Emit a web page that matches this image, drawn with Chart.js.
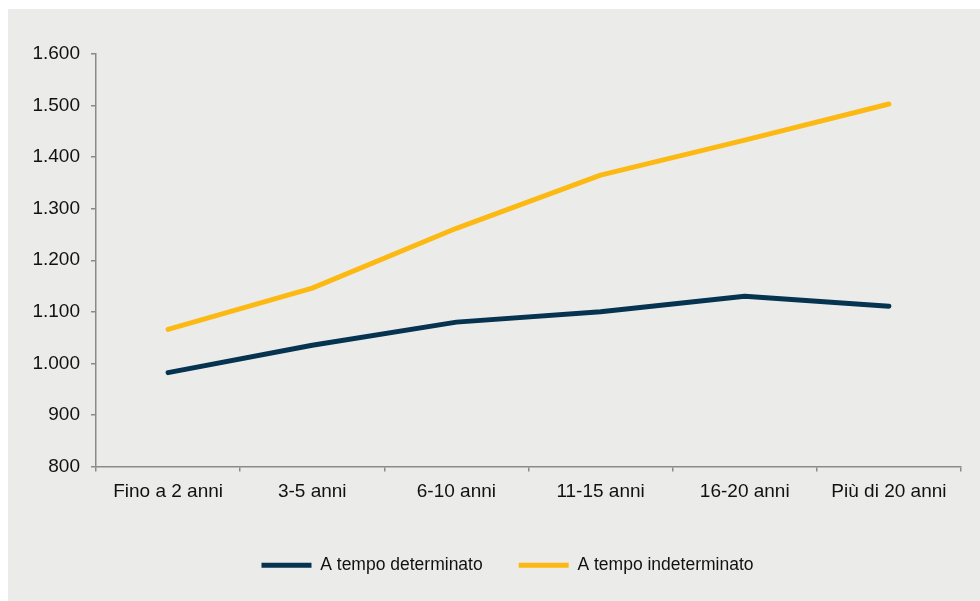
<!DOCTYPE html>
<html lang="it">

<head>
    <meta charset="UTF-8">
    <title>Retribuzione per anzianità</title>
    <style>
        body { margin: 0; background: #fff; }
        #panel {
            position: absolute;
            left: 8px;
            top: 9px;
            width: 972px;
            height: 592px;
            background: #ebecea;
        }
        canvas { display: block; }
    </style>
</head>

<body>
    <div id="panel">
        <canvas id="myChart" width="972" height="592"></canvas>
    </div>

    <script src="https://cdn.jsdelivr.net/npm/chart.js@4.4.1/dist/chart.umd.min.js"></script>
    <script>
        var categories = ['Fino a 2 anni', '3-5 anni', '6-10 anni', '11-15 anni', '16-20 anni', 'Più di 20 anni'];
        var seriesNames = ['A tempo determinato', 'A tempo indeterminato'];
        var determinato = [982, 1035, 1080, 1100, 1130, 1111];
        var indeterminato = [1066, 1146, 1262, 1365, 1433, 1503];
        var yTicks = [800, 900, 1000, 1100, 1200, 1300, 1400, 1500, 1600];

        function fmt(v) {
            return String(v).replace(/\B(?=(\d{3})+(?!\d))/g, '.');
        }

        var family = "'Liberation Sans', Arial, sans-serif";
        var axisFont = { family: family, size: 19 };
        var legendFont = { family: family, size: 17.5 };
        var axisColor = '#8a8a8a';

        function lineSet(label, data, color) {
            return {
                label: label,
                data: data,
                borderColor: color,
                backgroundColor: color,
                borderWidth: 5,
                borderCapStyle: 'round',
                borderJoinStyle: 'round',
                pointRadius: 0,
                pointHoverRadius: 0,
                tension: 0
            };
        }

        // legend in the original is centred a bit right of the canvas middle
        var shiftLegend = {
            id: 'shiftLegend',
            afterLayout: function (chart) {
                if (chart.legend) chart.legend.left = 46;
            }
        };

        new Chart(document.getElementById('myChart').getContext('2d'), {
            type: 'line',
            data: {
                labels: categories,
                datasets: [
                    lineSet(seriesNames[0], determinato, '#06334f'),
                    lineSet(seriesNames[1], indeterminato, '#fdb913')
                ]
            },
            plugins: [shiftLegend],
            options: {
                responsive: false,
                animation: false,
                layout: { padding: { top: 45, left: 0, right: 19, bottom: 17 } },
                plugins: {
                    tooltip: { enabled: false },
                    legend: {
                        position: 'bottom',
                        labels: {
                            usePointStyle: true,
                            pointStyle: 'line',
                            pointStyleWidth: 50,
                            padding: 36,
                            color: '#111',
                            font: legendFont
                        }
                    }
                },
                scales: {
                    x: {
                        offset: true,
                        afterFit: function (s) { s.height = 54; },
                        grid: {
                            offset: true,
                            drawOnChartArea: false,
                            drawTicks: true,
                            tickLength: 5,
                            color: axisColor,
                            lineWidth: 1.5
                        },
                        border: { color: axisColor, width: 1.5 },
                        ticks: { color: '#111', font: axisFont, padding: 9, maxRotation: 0 }
                    },
                    y: {
                        min: yTicks[0],
                        max: yTicks[yTicks.length - 1],
                        afterFit: function (s) { s.width = 88; },
                        afterBuildTicks: function (s) {
                            s.ticks = yTicks.map(function (v) { return { value: v }; });
                        },
                        grid: {
                            drawOnChartArea: false,
                            drawTicks: true,
                            tickLength: 5,
                            color: axisColor,
                            lineWidth: 1.5
                        },
                        border: { color: axisColor, width: 1.5 },
                        ticks: {
                            color: '#111',
                            font: axisFont,
                            padding: 11,
                            callback: function (v) { return fmt(v); }
                        }
                    }
                }
            }
        });
    </script>
</body>

</html>
